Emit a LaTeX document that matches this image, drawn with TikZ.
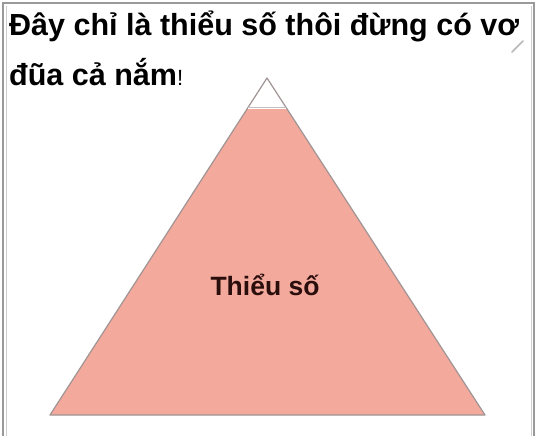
\documentclass[tikz,border=0pt]{standalone}
\usepackage{fontspec}
\setmainfont{Liberation Sans}
\definecolor{pinkfill}{HTML}{F3A99C}
\definecolor{edgegray}{HTML}{A09494}
\definecolor{framegray}{HTML}{9A9A9A}
\definecolor{textdark}{HTML}{2A0E0C}
\begin{document}
\begin{tikzpicture}[x=1pt,y=1pt,
  heading/.style={font=\bfseries\fontsize{30.5}{30.5}\selectfont, anchor=base west, inner sep=0pt},
  label/.style={font=\bfseries\fontsize{26.5}{26.5}\selectfont, text=textdark, inner sep=0pt}]
\useasboundingbox (0,0) rectangle (546,-436);
\fill[white] (0,0) rectangle (546,-436);
% frame
\draw[framegray, line width=1.2] (3,-437) -- (3,-3) -- (534,-3) -- (534,-437);
\draw[framegray!50, line width=1] (6,-437) -- (6,-6);
\draw[framegray!50, line width=1] (531,-437) -- (531,-6);
% pen mark
\draw[framegray!70, line width=1.5, line cap=round] (512,-52) -- (523,-41);
% heading
\node[heading] (l1) at (9,-36) {Đây chỉ là thiểu số thôi đừng có vơ};
\node[heading] (l2) at (9,-85) {đũa cả nắm{\mdseries\fontsize{22}{22}\selectfont!}};
% pyramid
\coordinate (apex) at (267,-78);
\coordinate (bl) at (50,-415);
\coordinate (br) at (485,-415);
\coordinate (cl) at (247.7,-108);
\coordinate (cr) at (286.3,-108);
\fill[pinkfill] (cl) -- (cr) -- (br) -- (bl) -- cycle;
\draw[edgegray, line width=1.2, line join=round] (apex) -- (br) -- (bl) -- cycle;
\draw[white, line width=1.2] (cl) -- (cr);
\draw[edgegray!60, line width=0.6] ([yshift=0.9]cl) -- ([yshift=0.9]cr);
\node[label] (t) at (265,-285) {Thiểu số};
\end{tikzpicture}
\end{document}
